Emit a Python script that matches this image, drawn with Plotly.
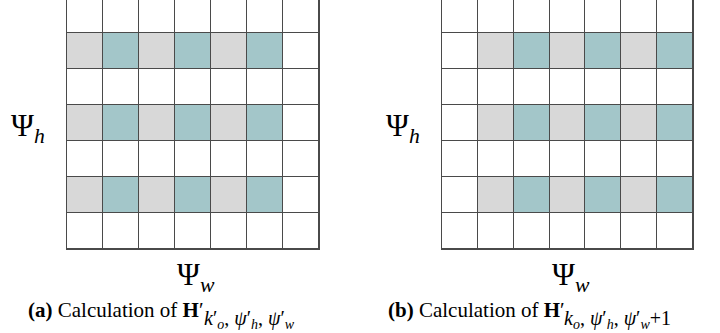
import plotly.graph_objects as go

# Data
cols = list(range(7))
rows = list(range(7))
# 0 = empty cell, 1 = gray cell, 2 = teal cell
grid_a = [
    [0, 0, 0, 0, 0, 0, 0],
    [1, 2, 1, 2, 1, 2, 0],
    [0, 0, 0, 0, 0, 0, 0],
    [1, 2, 1, 2, 1, 2, 0],
    [0, 0, 0, 0, 0, 0, 0],
    [1, 2, 1, 2, 1, 2, 0],
    [0, 0, 0, 0, 0, 0, 0],
]
grid_b = [
    [0, 0, 0, 0, 0, 0, 0],
    [0, 1, 2, 1, 2, 1, 2],
    [0, 0, 0, 0, 0, 0, 0],
    [0, 1, 2, 1, 2, 1, 2],
    [0, 0, 0, 0, 0, 0, 0],
    [0, 1, 2, 1, 2, 1, 2],
    [0, 0, 0, 0, 0, 0, 0],
]
caption_main = ["<b>(a)</b> Calculation of <b>H</b>′", "<b>(b)</b> Calculation of <b>H</b>′"]
caption_sub = ["<i>k</i>′<sub><i>o</i></sub>, <i>ψ</i>′<sub><i>h</i></sub>, <i>ψ</i>′<sub><i>w</i></sub>",
               "<i>k</i><sub><i>o</i></sub>, <i>ψ</i>′<sub><i>h</i></sub>, <i>ψ</i>′<sub><i>w</i></sub>+1"]
y_label = "Ψ<sub><i>h</i></sub>"
x_label = "Ψ<sub><i>w</i></sub>"

WHITE = "#ffffff"
GRAY = "#d8d8d8"
TEAL = "#a3c6c9"
LINE = "#4a4a4a"
FONT = "Liberation Serif"

colorscale = [[0, WHITE], [1/3, WHITE], [1/3, GRAY], [2/3, GRAY], [2/3, TEAL], [1, TEAL]]

fig = go.Figure()
for i, z in enumerate([grid_a, grid_b]):
    fig.add_trace(go.Heatmap(
        z=z, x=cols, y=rows, zmin=-0.5, zmax=2.5, colorscale=colorscale,
        showscale=False, xgap=1, ygap=1, hoverinfo="skip",
        xaxis="x" if i == 0 else "x2", yaxis="y" if i == 0 else "y2",
    ))

ax_common = dict(showgrid=False, zeroline=False, showticklabels=False, ticks="",
                 showline=True, linecolor=LINE, linewidth=1)
fig.update_layout(
    width=720, height=333,
    margin=dict(l=0, r=0, t=0, b=84),
    paper_bgcolor="white", plot_bgcolor=LINE,
    showlegend=False,
    xaxis=dict(domain=[67/720, 319/720], range=[-0.5, 6.5], anchor="y", **ax_common),
    yaxis=dict(domain=[0, 1], range=[6.5, 6.5 - 249/36], anchor="x", mirror=True, **ax_common),
    xaxis2=dict(domain=[442/720, 693/720], range=[-0.5, 6.5], anchor="y2", **ax_common),
    yaxis2=dict(domain=[0, 1], range=[6.5, 6.5 - 249/36], anchor="x2", mirror=True, **ax_common),
)

def px(page_x):
    return page_x / 720

def py(page_y):
    return (249 - page_y) / 249

def ann(x, y, text, size, xanchor="center", yanchor="middle"):
    fig.add_annotation(x=px(x), y=py(y), xref="paper", yref="paper", showarrow=False,
                       xanchor=xanchor, yanchor=yanchor, borderpad=0,
                       text=text, font=dict(family=FONT, size=size, color="black"))

for xh, xw, xcap, xsub, i in [(10, 196, 27, 203, 0), (385, 571, 387, 563, 1)]:
    ann(xh, 128, y_label, 31, xanchor="left")
    ann(xw, 277, x_label, 31)
    ann(xcap, 310, caption_main[i], 21, xanchor="left")
    ann(xsub, 319, caption_sub[i], 20, xanchor="left")

fig.write_html("out.html", config={"displayModeBar": False},
               post_script="document.body.style.margin='0px';")
